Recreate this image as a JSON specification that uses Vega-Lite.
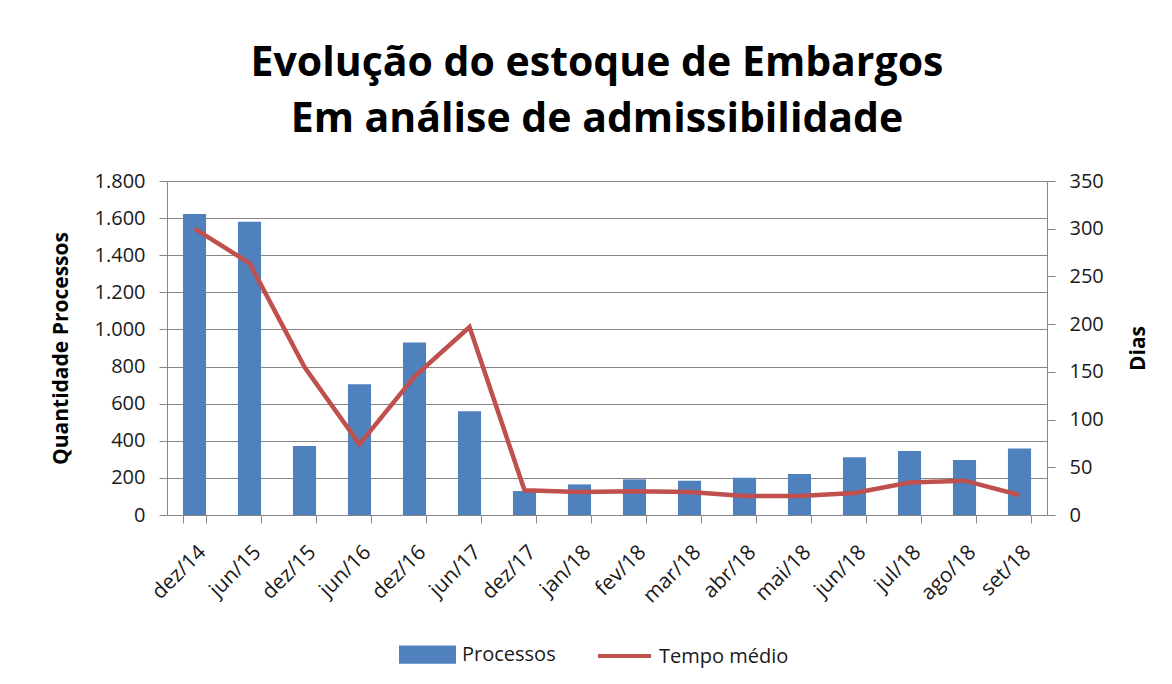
{
  "$schema": "https://vega.github.io/schema/vega-lite/v6.json",
  "autosize": {"type": "none"},
  "width": 880,
  "height": 334,
  "padding": {"left": 167, "top": 181, "right": 125, "bottom": 169},
  "background": "white",
  "config": {
    "font": "Open Sans",
    "view": {"stroke": null},
    "axis": {"labelFont": "Open Sans", "titleFont": "Open Sans", "labelColor": "#1a1a1a", "titleColor": "#000000", "domainColor": "#868686", "tickColor": "#868686", "gridColor": "#868686", "labelFontSize": 20, "titleFontSize": 21, "titleFontWeight": "bold"}
  },
  "title": {
    "text": ["Evolução do estoque de Embargos", "Em análise de admissibilidade"],
    "font": "Open Sans",
    "fontSize": 41,
    "fontWeight": "bold",
    "lineHeight": 56,
    "anchor": "middle",
    "dx": -10,
    "offset": 30,
    "color": "#000000"
  },
  "data": {
    "values": [
      {"mes": "dez/14", "processos": 1622, "tempo": 300},
      {"mes": "jun/15", "processos": 1580, "tempo": 264},
      {"mes": "dez/15", "processos": 372, "tempo": 155},
      {"mes": "jun/16", "processos": 704, "tempo": 74},
      {"mes": "dez/16", "processos": 930, "tempo": 145},
      {"mes": "jun/17", "processos": 559, "tempo": 197},
      {"mes": "dez/17", "processos": 129, "tempo": 26},
      {"mes": "jan/18", "processos": 165, "tempo": 24},
      {"mes": "fev/18", "processos": 192, "tempo": 25},
      {"mes": "mar/18", "processos": 185, "tempo": 24},
      {"mes": "abr/18", "processos": 201, "tempo": 20},
      {"mes": "mai/18", "processos": 221, "tempo": 20},
      {"mes": "jun/18", "processos": 311, "tempo": 23},
      {"mes": "jul/18", "processos": 345, "tempo": 34},
      {"mes": "ago/18", "processos": 296, "tempo": 36},
      {"mes": "set/18", "processos": 359, "tempo": 21}
    ]
  },
  "encoding": {
    "x": {
      "field": "mes", "type": "nominal", "sort": null,
      "scale": {"paddingInner": 0.58, "paddingOuter": 0.29},
      "axis": {"title": null, "labelAngle": -45, "labelFontSize": 21, "tickBand": "extent", "ticks": true, "tickSize": 8, "labelPadding": 18, "grid": false}
    }
  },
  "layer": [
    {
      "mark": {"type": "bar", "color": "#4F81BD"},
      "encoding": {
        "y": {
          "field": "processos", "type": "quantitative",
          "scale": {"domain": [0, 1800], "nice": false},
          "axis": {"title": "Quantidade Processos", "values": [0, 200, 400, 600, 800, 1000, 1200, 1400, 1600, 1800], "labelExpr": "replace(format(datum.value, ','), ',', '.')", "tickSize": 8, "labelPadding": 14, "titlePadding": 23, "grid": true, "orient": "left"}
        },
        "color": {
          "datum": "Processos", "type": "nominal",
          "scale": {"domain": ["Processos", "Tempo médio"], "range": ["#4F81BD", "#C0504D"]},
          "legend": {
            "title": null, "orient": "none", "direction": "horizontal", "legendX": 232, "legendY": 445,
            "symbolSize": 2809, "labelFontSize": 20, "labelFont": "Open Sans", "labelColor": "#1a1a1a", "labelOffset": 6, "columnPadding": 34,
            "encode": {"symbols": {"update": {
              "shape": {"signal": "datum.value == 'Processos' ? 'M-1,-0.27H1V0.27H-1Z' : 'M-1,-0.05H1'"},
              "fill": {"signal": "datum.value == 'Processos' ? '#4F81BD' : 'transparent'"},
              "stroke": {"signal": "datum.value == 'Processos' ? 'transparent' : '#C0504D'"},
              "strokeWidth": {"value": 4},
              "opacity": {"value": 1}
            }}}
          }
        }
      }
    },
    {
      "mark": {"type": "line", "color": "#C0504D", "strokeWidth": 4.5},
      "encoding": {
        "y": {
          "field": "tempo", "type": "quantitative",
          "scale": {"domain": [0, 350], "nice": false},
          "axis": {"title": "Dias", "titleAngle": 270, "titleX": 91, "titleY": 167, "titleAlign": "center", "titleBaseline": "middle", "values": [0, 50, 100, 150, 200, 250, 300, 350], "tickSize": 8, "labelPadding": 14, "grid": false, "orient": "right"}
        },
        "color": {"datum": "Tempo médio", "type": "nominal"}
      }
    }
  ],
  "resolve": {"scale": {"y": "independent"}, "axis": {"y": "independent"}}
}
